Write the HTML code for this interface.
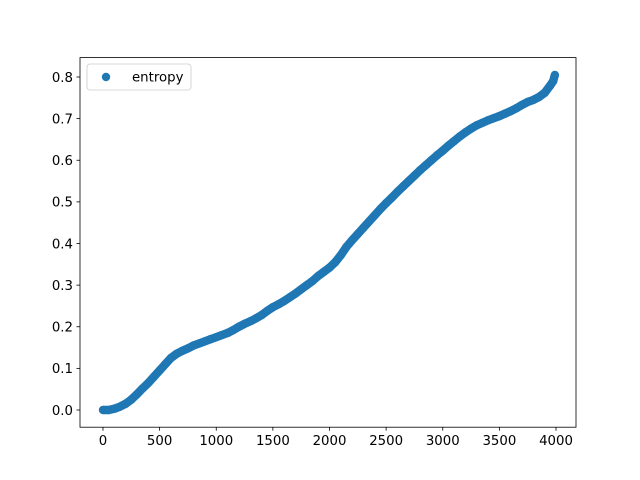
<!DOCTYPE html>
<html><head><meta charset="utf-8"><style>
body{margin:0;background:#fff}
svg{display:block;font-family:"DejaVu Sans","Liberation Sans",sans-serif}
</style></head><body>
<svg id="chart" width="640" height="480">
<rect x="0" y="0" width="640" height="480" fill="#fff"/>
<g id="marks"></g>
<rect x="80" y="57.6" width="496" height="369.6" fill="none" stroke="#000" stroke-width="0.8"/>
<g id="xaxis"></g>
<g id="yaxis"></g>
<g>
<rect x="87" y="64" width="104" height="26" rx="3" fill="#fff" fill-opacity="0.8" stroke="#ccc" stroke-width="0.8"/>
<circle cx="106" cy="77" r="4.2" fill="#1f77b4"/>
<text x="132" y="81.5" font-size="13.3" fill="#000">entropy</text>
</g>
</svg>
<script>
const xs=[0,50,100,150,200,250,300,350,400,450,500,550,600,650,700,750,800,850,900,950,1000,1050,1100,1150,1200,1250,1300,1350,1400,1450,1500,1550,1600,1650,1700,1750,1800,1850,1900,1950,2000,2050,2100,2150,2200,2250,2300,2350,2400,2450,2500,2550,2600,2650,2700,2750,2800,2850,2900,2950,3000,3050,3100,3150,3200,3250,3300,3350,3400,3450,3500,3550,3600,3650,3700,3750,3800,3850,3900,3950,3975,3990];
const ys=[0,0,0.003,0.008,0.015,0.025,0.038,0.052,0.065,0.08,0.095,0.11,0.125,0.135,0.142,0.148,0.155,0.16,0.165,0.17,0.175,0.18,0.185,0.192,0.2,0.207,0.213,0.22,0.228,0.238,0.247,0.254,0.262,0.271,0.28,0.29,0.3,0.31,0.322,0.332,0.342,0.355,0.372,0.392,0.408,0.423,0.438,0.453,0.468,0.483,0.497,0.51,0.524,0.537,0.55,0.563,0.576,0.588,0.6,0.612,0.623,0.635,0.646,0.657,0.667,0.676,0.684,0.69,0.696,0.701,0.706,0.712,0.718,0.725,0.733,0.74,0.745,0.752,0.762,0.78,0.79,0.805];
const xTicks=[0,500,1000,1500,2000,2500,3000,3500,4000];
const yTicks=[0,0.1,0.2,0.3,0.4,0.5,0.6,0.7,0.8];
const yTickLabels=["0.0","0.1","0.2","0.3","0.4","0.5","0.6","0.7","0.8"];
const NS="http://www.w3.org/2000/svg";
const X=v=>103+v*(453/4000);
const Y=v=>410-v*(333/0.8);
const marks=document.getElementById('marks');
const pl=document.createElementNS(NS,'polyline');
pl.setAttribute('points',xs.map((x,i)=>X(x)+','+Y(ys[i])).join(' '));
pl.setAttribute('fill','none');pl.setAttribute('stroke','#1f77b4');pl.setAttribute('stroke-width','8.4');pl.setAttribute('stroke-linejoin','round');


marks.appendChild(pl);
xs.forEach((x,i)=>{const c=document.createElementNS(NS,'circle');
c.setAttribute('cx',X(x));c.setAttribute('cy',Y(ys[i]));c.setAttribute('r','4.2');c.setAttribute('fill','#1f77b4');


marks.appendChild(c);});
const xa=document.getElementById('xaxis');
xTicks.forEach(t=>{const l=document.createElementNS(NS,'line');
l.setAttribute('x1',X(t));l.setAttribute('x2',X(t));l.setAttribute('y1',427.2);l.setAttribute('y2',430.7);l.setAttribute('stroke','#000');l.setAttribute('stroke-width','0.8');


xa.appendChild(l);
const tx=document.createElementNS(NS,'text');tx.setAttribute('x',X(t));tx.setAttribute('y',445);tx.setAttribute('text-anchor','middle');tx.setAttribute('font-size','13.3');tx.textContent=t;


xa.appendChild(tx);});
const ya=document.getElementById('yaxis');
yTicks.forEach((t,i)=>{const l=document.createElementNS(NS,'line');
l.setAttribute('x1',76.5);l.setAttribute('x2',80);l.setAttribute('y1',Y(t));l.setAttribute('y2',Y(t));l.setAttribute('stroke','#000');l.setAttribute('stroke-width','0.8');


ya.appendChild(l);
const tx=document.createElementNS(NS,'text');tx.setAttribute('x',73);tx.setAttribute('y',Y(t)+4.8);tx.setAttribute('text-anchor','end');tx.setAttribute('font-size','13.3');tx.textContent=yTickLabels[i];


ya.appendChild(tx);});
</script>
</body></html>
